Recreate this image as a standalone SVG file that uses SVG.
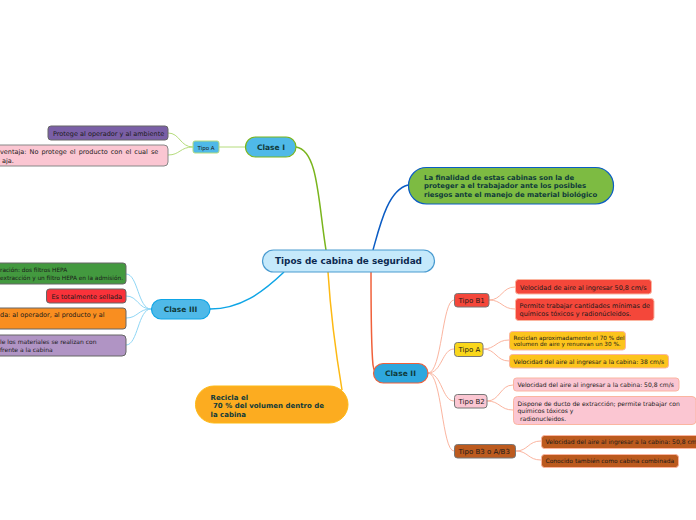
<svg xmlns="http://www.w3.org/2000/svg" width="696" height="520" viewBox="0 0 696 520">
<style>
text{font-family:"DejaVu Sans",Verdana,sans-serif;fill:#1a1a1a}
.b{font-weight:bold;fill:#0f3a3a}
.g{stroke:#b5dc7c}
.s{stroke:#8fd6f5}
.o{stroke:#fbb5a0}
</style>
<rect width="696" height="520" fill="#fff"/>
<g id="connectors" fill="none">
<path d="M296 147C318 150 318 200 326 250" stroke="#7ab51d" stroke-width="1.500"/>
<path d="M373 250C380 225 388 190 408 185" stroke="#0b5cc4" stroke-width="1.500"/>
<path d="M284 272C262 293 240 309 210 309" stroke="#0ea5e6" stroke-width="1.500"/>
<path d="M328 272C331 320 337 360 342 390" stroke="#fdb913" stroke-width="1.500"/>
<path d="M371 272C371 310 371 345 373 365C374 372 376 373 378 374" stroke="#f0603a" stroke-width="1.500"/>
<path class="g" d="M245 147H219M193 147C180 147 180 133 168 133M193 147C180 147 180 155 168 155"/>
<path class="s" d="M151 309C138 309 138 274 126 274M151 309C138 309 138 296 126 296M151 309C138 309 138 318 126 318M151 309C138 309 138 345 126 345"/>
<path class="o" d="M428 373C442 373 442 300 454 300M428 373C442 373 442 349 454 349M428 373C442 373 442 401 454 401M428 373C442 373 442 451 454 451"/>
<path class="o" d="M489 300C502 300 502 287 515 287M489 300C502 300 502 309 515 309M483 349C496 349 496 340 509 340M483 349C496 349 496 361 509 361M487 401C500 401 500 385 513 385M487 401C500 401 500 410 513 410M516 451C528 451 528 441 541 441M516 451C528 451 528 460 541 460"/>
</g>
<g id="root"><rect x="262.500" y="250" width="172" height="22" rx="11" fill="#c5e9fb" stroke="#4a9bd0" stroke-width="1.200"/><text x="348.500" y="264" text-anchor="middle" font-size="8.900" font-weight="bold" style="fill:#0c2a50">Tipos de cabina de seguridad</text></g>
<g id="clase1"><rect x="245.500" y="137" width="50.500" height="20" rx="10" fill="#4fb9e8" stroke="#7ab51d" stroke-width="1.200"/><text class="b" x="271" y="149.500" text-anchor="middle" font-size="7.500">Clase I</text></g>
<g id="tipoa1"><rect x="193" y="141" width="26" height="12" rx="2" fill="#4fb9e8" stroke="#b5dc7c"/><text x="206" y="149.500" text-anchor="middle" font-size="5.500">Tipo A</text></g>
<g id="protege"><rect x="48" y="126" width="120" height="14" rx="3" fill="#7a5fa6" stroke="#666"/><text x="53" y="135.500" font-size="6.500">Protege al operador y al ambiente</text></g>
<g id="desventaja"><rect x="-10" y="145" width="178" height="21" rx="4" fill="#fbc6d2" stroke="#888"/><text x="0" y="154" font-size="6.500" word-spacing="1">ventaja: No protege el producto con el cual se</text><text x="2" y="162.500" font-size="6.500">aja.</text></g>
<g id="clase3"><rect x="151.500" y="299.500" width="58.500" height="19.500" rx="9.700" fill="#4fb9e8" stroke="#0ea5e6" stroke-width="1.200"/><text class="b" x="180.500" y="312" text-anchor="middle" font-size="7.500">Clase III</text></g>
<g id="verde"><rect x="-10" y="263" width="136" height="21" rx="3" fill="#43993f" stroke="#666"/><text x="0" y="272" font-size="5.800">ración: dos filtros HEPA</text><text x="0" y="279.500" font-size="5.800">extracción y un filtro HEPA en la admisión.</text></g>
<g id="sellada"><rect x="46.500" y="289" width="79.500" height="14" rx="3" fill="#f9323a" stroke="#666"/><text x="51.500" y="298.500" font-size="6.500">Es totalmente sellada</text></g>
<g id="naranja"><rect x="-10" y="308" width="136" height="21" rx="3" fill="#f98e20" stroke="#666"/><text x="0" y="317" font-size="6.500">da: al operador, al producto y al</text></g>
<g id="lila"><rect x="-10" y="335" width="136" height="21" rx="4" fill="#b094c4" stroke="#666"/><text x="0" y="344" font-size="6">le los materiales se realizan con</text><text x="0" y="351.500" font-size="6">frente a la cabina</text></g>
<g id="finalidad"><rect x="408.500" y="167.500" width="205" height="36.500" rx="18" fill="#7dbb42" stroke="#0b5cc4" stroke-width="1.200"/><text class="b" font-size="6.900"><tspan x="424" y="179.500">La finalidad de estas cabinas son la de</tspan><tspan x="424" y="188">proteger a el trabajador ante los posibles</tspan><tspan x="424" y="197">riesgos ante el manejo de material biológico</tspan></text></g>
<g id="recicla"><rect x="195.500" y="386" width="152.500" height="37" rx="18.500" fill="#fcac20" stroke="#fdb913"/><text class="b" font-size="7"><tspan x="210.500" y="399.500">Recicla el</tspan><tspan x="213" y="408">70 % del volumen dentro de</tspan><tspan x="210.500" y="416.500">la cabina</tspan></text></g>
<g id="clase2"><rect x="373.500" y="363.500" width="54.500" height="19.500" rx="9.700" fill="#2ea7de" stroke="#f0603a" stroke-width="1.200"/><text class="b" x="400.500" y="376" text-anchor="middle" font-size="7.500">Clase II</text></g>
<g id="b1"><rect x="454.500" y="293.500" width="34.500" height="13.500" rx="3" fill="#f4473a" stroke="#777"/><text x="458.500" y="303" font-size="7">Tipo B1</text></g>
<g id="b1a"><rect x="515.500" y="279.500" width="136" height="14.500" rx="3" fill="#f4473a" stroke="#fbb5a0"/><text x="520" y="289.500" font-size="6.500">Velocidad de aire al ingresar 50,8 cm/s</text></g>
<g id="b1b"><rect x="515.500" y="298.500" width="138.500" height="22" rx="3" fill="#f4473a" stroke="#fbb5a0"/><text font-size="6.500"><tspan x="519.500" y="307.500">Permite trabajar cantidades mínimas de</tspan><tspan x="519.500" y="316">químicos tóxicos y radionúcleidos.</tspan></text></g>
<g id="ta"><rect x="454.500" y="342.500" width="28.500" height="14" rx="3" fill="#f9d71c" stroke="#777"/><text x="458.500" y="352" font-size="7">Tipo A</text></g>
<g id="taa"><rect x="509.500" y="331.500" width="116" height="18.500" rx="3" fill="#fcc41c" stroke="#fbb5a0"/><text font-size="5.700"><tspan x="513.500" y="339.500">Reciclan aproximadamente el 70 % del</tspan><tspan x="513.500" y="345.500">volumen de aire y renuevan un 30 %.</tspan></text></g>
<g id="tab"><rect x="509.500" y="354.500" width="159" height="13.500" rx="3" fill="#fcc41c" stroke="#fbb5a0"/><text x="513.500" y="363.500" font-size="6.050">Velocidad del aire al ingresar a la cabina: 38 cm/s</text></g>
<g id="b2"><rect x="454.500" y="394.500" width="32.500" height="13.500" rx="3" fill="#fbc6d2" stroke="#777"/><text x="458.500" y="404" font-size="7">Tipo B2</text></g>
<g id="b2a"><rect x="513.500" y="378" width="165.500" height="13" rx="3" fill="#fbc6d2" stroke="#fbb5a0"/><text x="517.500" y="387" font-size="6.050">Velocidad del aire al ingresar a la cabina: 50,8 cm/s</text></g>
<g id="b2b"><rect x="513.500" y="396.500" width="182.500" height="28" rx="4" fill="#fbc6d2" stroke="#fbb5a0"/><text font-size="6.050"><tspan x="517.500" y="405.500">Dispone de ducto de extracción; permite trabajar con</tspan><tspan x="517.500" y="413">químicos tóxicos y</tspan><tspan x="520" y="420.500">radionucleidos.</tspan></text></g>
<g id="b3"><rect x="454.500" y="444.500" width="61" height="13.500" rx="3" fill="#bc5a1e" stroke="#777"/><text x="458.500" y="454" font-size="7">Tipo B3 o A/B3</text></g>
<g id="b3a"><rect x="541.500" y="435.500" width="165" height="13" rx="3" fill="#bc5a1e" stroke="#fbb5a0"/><text x="545.500" y="444" font-size="6.050">Velocidad del aire al ingresar a la cabina: 50,8 cm/s</text></g>
<g id="b3b"><rect x="541.500" y="454.500" width="137" height="13" rx="3" fill="#bc5a1e" stroke="#fbb5a0"/><text x="545.500" y="462.500" font-size="5.950">Conocido también como cabina combinada</text></g>
</svg>
